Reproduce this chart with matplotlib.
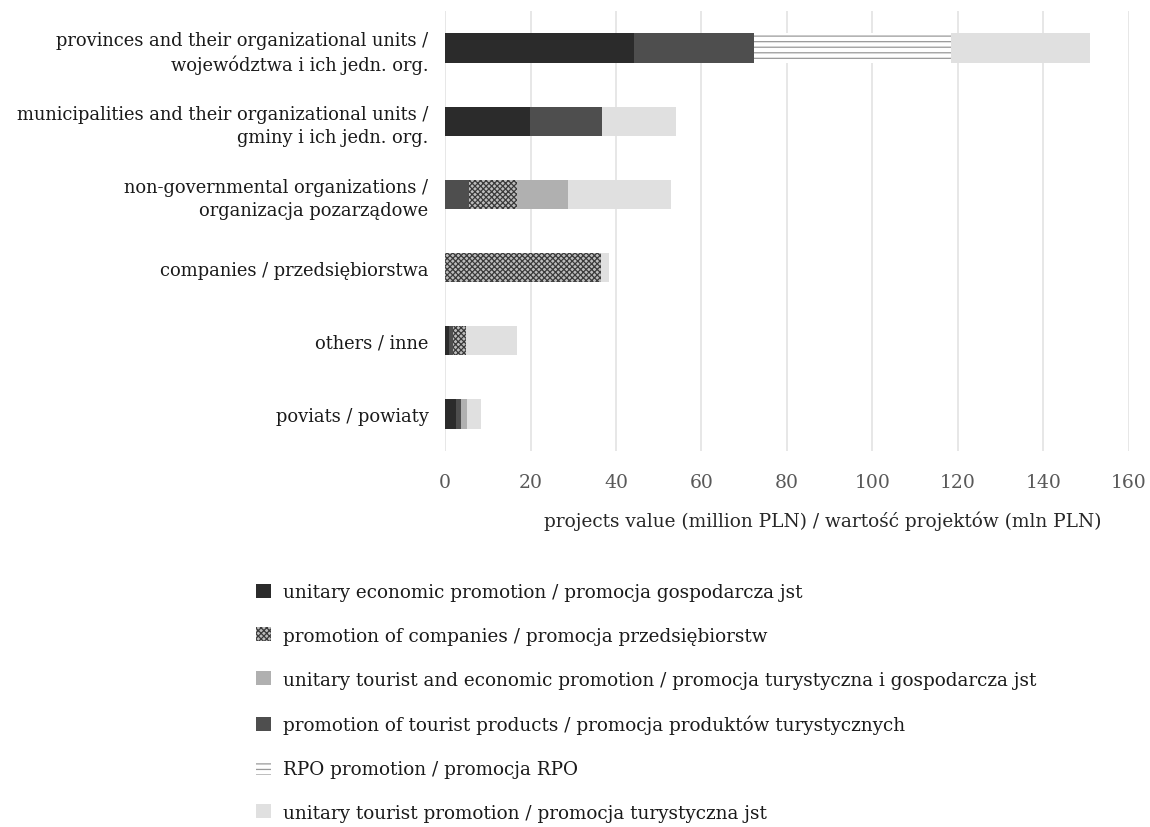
import matplotlib
matplotlib.use("Agg")
import matplotlib.pyplot as plt
from matplotlib.patches import Patch
import numpy as np

plt.rcParams["font.family"] = ["DejaVu Serif"]
plt.rcParams["hatch.linewidth"] = 0.9

categories = [
    "provinces and their organizational units /\nwojewództwa i ich jedn. org.",
    "municipalities and their organizational units /\ngminy i ich jedn. org.",
    "non-governmental organizations /\norganizacja pozarządowe",
    "companies / przedsiębiorstwa",
    "others / inne",
    "poviats / powiaty",
]

# values in million PLN, one list per promotion type
unitary_economic = [44.3, 19.8, 0.0, 0.0, 1.0, 2.6]
tourist_products = [27.9, 16.9, 5.7, 0.0, 0.9, 1.1]
companies_promo = [0.0, 0.0, 11.2, 36.6, 3.0, 0.0]
tourist_economic = [0.0, 0.0, 11.9, 0.0, 0.0, 1.5]
rpo_promo = [46.1, 0.0, 0.0, 0.0, 0.0, 0.0]
unitary_tourist = [32.5, 17.3, 24.1, 1.7, 11.9, 3.2]

x_ticks = [0, 20, 40, 60, 80, 100, 120, 140, 160]

series = [
    ("unitary economic promotion / promocja gospodarcza jst", unitary_economic,
     dict(facecolor="#2b2b2b", edgecolor="#2b2b2b", hatch=None)),
    ("promotion of tourist products / promocja produktów turystycznych", tourist_products,
     dict(facecolor="#4e4e4e", edgecolor="#4e4e4e", hatch=None)),
    ("promotion of companies / promocja przedsiębiorstw", companies_promo,
     dict(facecolor="#bdbdbd", edgecolor="#3a3a3a", hatch="xxxxxx")),
    ("unitary tourist and economic promotion / promocja turystyczna i gospodarcza jst", tourist_economic,
     dict(facecolor="#b0b0b0", edgecolor="#b0b0b0", hatch=None)),
    ("RPO promotion / promocja RPO", rpo_promo,
     dict(facecolor="white", edgecolor="#999999", hatch="---")),
    ("unitary tourist promotion / promocja turystyczna jst", unitary_tourist,
     dict(facecolor="#e0e0e0", edgecolor="#e0e0e0", hatch=None)),
]

fig = plt.figure(figsize=(11.5, 8.28), dpi=100)
ax = fig.add_axes([0.387, 0.4547, 0.5946, 0.5303])

y = np.arange(len(categories))
left = np.zeros(len(categories))
handles = {}
for label, vals, style in series:
    vals = np.array(vals)
    ax.barh(y, vals, left=left, height=0.4, linewidth=0, **style)
    left += vals
    handles[label] = Patch(linewidth=0, **style)

ax.set_ylim(len(categories) - 0.5, -0.5)
ax.set_xlim(0, 160)
ax.set_xticks(x_ticks)
ax.set_yticks(y)
ax.set_yticklabels(categories, fontsize=12.9, color="#1a1a1a", linespacing=1.35)
ax.tick_params(axis="both", length=0)
ax.tick_params(axis="x", pad=16, labelsize=13.5, labelcolor="#595959")
ax.tick_params(axis="y", pad=12)
ax.grid(axis="x", color="#e3e3e3", linewidth=1.2)
ax.set_axisbelow(True)
for s in ax.spines.values():
    s.set_visible(False)
ax.set_xlabel("projects value (million PLN) / wartość projektów (mln PLN)",
              fontsize=13.3, color="#262626")
ax.xaxis.set_label_coords(0.553, -0.137)

legend_order = [
    "unitary economic promotion / promocja gospodarcza jst",
    "promotion of companies / promocja przedsiębiorstw",
    "unitary tourist and economic promotion / promocja turystyczna i gospodarcza jst",
    "promotion of tourist products / promocja produktów turystycznych",
    "RPO promotion / promocja RPO",
    "unitary tourist promotion / promocja turystyczna jst",
]
fig.legend([handles[k] for k in legend_order], legend_order,
           loc="upper left", bbox_to_anchor=(0.2226, 0.2947),
           frameon=False, fontsize=13.2, handlelength=0.8, handleheight=0.8,
           handletextpad=0.7, labelspacing=1.41, borderpad=0, borderaxespad=0,
           labelcolor="#1a1a1a")

fig.savefig("out.png", dpi=100)
